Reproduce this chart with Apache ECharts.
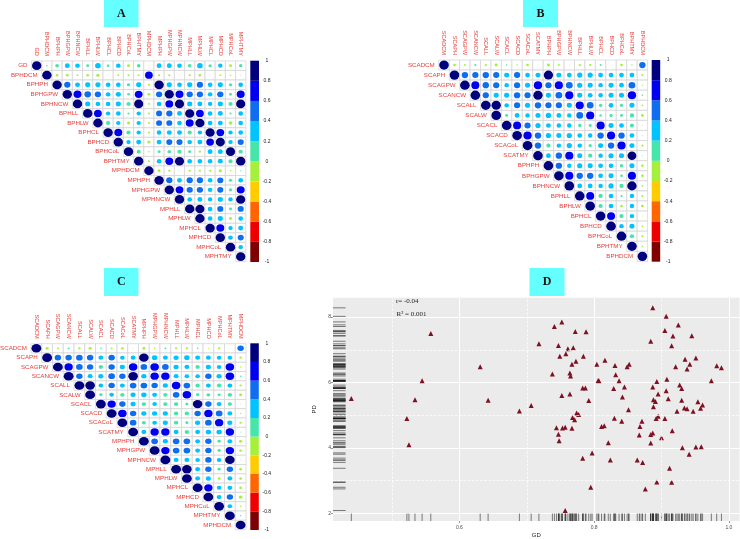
<!DOCTYPE html>
<html><head><meta charset="utf-8">
<style>html,body{margin:0;padding:0;background:#fff}#c{width:740px;height:539px}</style>
<script src="https://cdn.jsdelivr.net/npm/echarts@6/dist/echarts.min.js"></script>
</head><body><div id="c"></div>
<script>
const labelsA=['GD','BPHDCM','BPHPH','BPHGPW','BPHNCW','BPHLL','BPHLW','BPHCL','BPHCD','BPHCoL','BPHTMY','MPHDCM','MPHPH','MPHGPW','MPHNCW','MPHLL','MPHLW','MPHCL','MPHCD','MPHCoL','MPHTMY'];
const valuesA=[
[1,.03,.16,.28,.25,.1,.36,.08,.25,-.1,.15,-.01,.28,.28,.25,.15,.35,.12,.22,-.1,.13],
[1,-.08,-.09,-.04,-.08,-.12,-.01,-.04,-.05,-.04,.68,-.06,-.05,-.01,-.06,-.08,-.01,-.04,-.03,-.01],
[1,.45,.28,.3,.3,.25,.25,.13,.3,-.05,1,.3,.25,.3,.45,.25,.3,.12,.25],
[1,.72,.5,.45,.25,.3,.08,.7,-.1,.45,.95,.72,.45,.45,.25,.45,.1,.72],
[1,.3,.25,.25,.3,.2,.95,-.04,.25,.7,.95,.3,.28,.22,.3,.2,.95],
[1,.7,.22,.25,.05,.22,-.05,.42,.45,.28,.95,.7,.25,.28,.05,.25],
[1,.2,.22,-.1,.22,-.05,.42,.42,.25,.72,.95,.25,.28,-.15,.25],
[1,.72,.2,.22,-.05,.25,.28,.28,.2,.22,.95,.68,.22,.25],
[1,.22,.28,-.12,.28,.42,.42,.25,.28,.68,.95,.22,.42],
[1,.18,-.03,.1,.15,.2,.1,-.06,.28,.28,.95,.2],
[1,-.05,.25,.7,.95,.25,.25,.25,.28,.2,.98],
[1,-.1,-.06,-.01,-.06,-.06,-.06,-.12,-.03,.02],
[1,.45,.28,.45,.45,.25,.42,.12,.25],
[1,.7,.45,.45,.25,.42,.12,.72],
[1,.25,.28,.22,.3,.22,.95],
[1,.95,.25,.42,.1,.42],
[1,.25,.3,-.1,.25],
[1,.72,.22,.28],
[1,.25,.42],
[1,.22],
[1]];
const labelsB=['SCADCM','SCAPH','SCAGPW','SCANCW','SCALL','SCALW','SCACL','SCACD','SCACoL','SCATMY','BPHPH','BPHGPW','BPHNCW','BPHLL','BPHLW','BPHCL','BPHCD','BPHCoL','BPHTMY','BPHDCM'];
const valuesB=[
[1,-.08,-.04,.05,-.06,-.1,.03,-.03,-.08,-.01,-.1,-.04,-.01,-.06,-.06,.04,-.01,-.08,-.03,.45],
[1,.45,.42,.45,.42,.28,.42,.25,.28,.95,.28,.25,.3,.3,.25,.25,.25,.25,-.05],
[1,.7,.45,.42,.22,.42,.28,.75,.42,.72,.5,.3,.28,.22,.28,.25,.5,-.02],
[1,.42,.28,.28,.45,.42,.95,.28,.5,.72,.28,.25,.22,.28,.28,.75,.03],
[1,.95,.22,.42,.3,.45,.42,.42,.28,.72,.5,.12,.25,.12,.28,-.04],
[1,.1,.25,.22,.28,.32,.25,.22,.5,.72,.07,.12,.1,.2,-.08],
[1,.7,.42,.3,.25,.22,.22,.13,.1,.72,.28,.25,.18,-.01],
[1,.75,.45,.3,.28,.3,.25,.22,.45,.72,.45,.25,-.01],
[1,.45,.2,.22,.3,.22,.12,.28,.45,.75,.28,-.05],
[1,.25,.45,.72,.28,.2,.22,.3,.28,.85,.01],
[1,.45,.22,.3,.28,.25,.25,.13,.28,-.07],
[1,.72,.45,.45,.25,.28,.08,.72,-.08],
[1,.25,.25,.22,.3,.2,.95,-.03],
[1,.7,.2,.25,.05,.22,-.05],
[1,.2,.25,-.08,.22,-.08],
[1,.7,.2,.22,-.01],
[1,.22,.28,-.03],
[1,.2,-.05],
[1,-.03],
[1]];
const labelsC=['SCADCM','SCAPH','SCAGPW','SCANCW','SCALL','SCALW','SCACL','SCACD','SCACoL','SCATMY','MPHPH','MPHGPW','MPHNCW','MPHLL','MPHLW','MPHCL','MPHCD','MPHCoL','MPHTMY','MPHDCM'];
const valuesC=[
[1,-.1,-.04,.05,-.07,-.1,.03,-.04,-.08,-.01,-.09,-.03,.04,-.06,-.06,.03,-.02,-.06,-.01,.42],
[1,.42,.42,.45,.42,.25,.42,.22,.25,.95,.3,.25,.28,.3,.25,.25,.22,.22,-.07],
[1,.72,.45,.42,.2,.42,.28,.75,.45,.75,.45,.28,.25,.2,.28,.22,.75,-.02],
[1,.42,.25,.28,.45,.42,.95,.28,.72,.72,.25,.22,.22,.42,.28,.75,.03],
[1,.95,.22,.42,.25,.45,.45,.42,.28,.75,.45,.2,.25,.2,.25,-.06],
[1,.12,.22,.2,.28,.3,.25,.2,.45,.75,.12,.15,.1,.2,-.1],
[1,.72,.42,.28,.2,.22,.2,.2,.1,.95,.42,.25,.18,-.01],
[1,.75,.42,.28,.28,.28,.2,.2,.42,.72,.45,.25,-.02],
[1,.45,.18,.22,.28,.2,.1,.28,.45,.72,.28,-.06],
[1,.25,.72,.72,.25,.2,.25,.3,.3,.72,.01],
[1,.45,.28,.45,.45,.25,.42,.12,.25,-.1],
[1,.72,.45,.45,.25,.42,.12,.72,-.08],
[1,.25,.25,.22,.42,.22,.95,-.01],
[1,.95,.25,.42,.1,.42,-.08],
[1,.25,.28,-.08,.25,-.08],
[1,.72,.22,.25,-.08],
[1,.25,.42,-.15],
[1,.22,-.03],
[1,.02],
[1]];
const binBreaks=[-1,-.8,-.6,-.4,-.2,0,.2,.4,.6,.8,1];
const binColors=['#7F0000','#EE0000','#FF6600','#FFCC00','#A6F03C','#46E6AA','#00C3FF','#0F6EF0','#0000F0','#00007F'];
const gdValues=[.4395,.522,.525,.534,.5446,.5575,.6308,.6426,.689,.7065,
.887,.907,.925,.905,.917,.945,.884,.915,.752,.741,.772,.788,.718,.747,.761,.769,.758,.749,.784,.773,.767,.804,.816,.831,.852,.849,.935,.951,.942,.921,.938,.982,.989,.738,.764,.765,.832,.806,.807,.837,.908,.893,.974,.927,.930,.887,.845,.829,.783,.787,.907,.764,.752,.895,.842,.910,.888,.891,.792,.930,.954,.961,.958,.888,.851,.923,.934,.938,.947,.774,.777,.768,.771,.830,.841,.895,.892,.905,.871,.815,.811,.868,.744,.753,.757,.767,.747,.916,.887,.884,.867,.900,.748,.821,.884,.931,.951,.959,.797,.941,.783,.824,.864,.872,.912,.893,.915,.795,.876,.757];
const pdValues=[5.51,4.90,4.10,5.47,6.05,7.50,6.48,5.46,5.13,5.30,
8.28,8.02,7.76,7.59,7.42,7.43,7.26,7.12,7.85,7.71,7.56,7.55,7.18,7.13,7.03,7.06,6.88,6.80,6.80,6.65,6.56,6.56,6.68,6.52,6.56,6.48,6.71,6.75,6.56,6.48,6.41,6.51,6.45,6.26,6.29,6.20,6.24,6.06,6.05,6.05,6.10,6.03,6.05,5.92,5.82,5.86,5.86,5.82,5.83,5.83,5.75,5.65,5.60,5.65,5.56,5.50,5.47,5.42,5.45,5.46,5.41,5.31,5.21,5.26,5.17,5.12,5.22,5.20,5.12,5.07,5.02,4.93,4.86,4.91,4.82,4.97,4.90,4.90,4.82,4.68,4.66,4.66,4.62,4.61,4.63,4.60,4.42,4.53,4.46,4.41,4.40,4.31,4.22,4.16,4.15,4.01,4.03,4.04,3.85,3.81,3.69,3.63,3.63,3.56,3.38,2.96,2.95,2.80,2.75,2.09];
const xTicksD=[.6,.8,1.0], xMinorD=[.5,.7,.9], yTicksD=[2,4,6,8], yMinorD=[3,5,7];
const xRangeD=[.4123,1.0158], yRangeD=[1.77,8.59];

const RED='#E8403C', SANS='"Liberation Sans",Arial,sans-serif', SERIF='"Liberation Serif",serif';
const binColor=v=>{for(let i=0;i<10;i++) if(v<=binBreaks[i+1]) return binColors[i]; return binColors[9];};

const grid=[],xAxis=[],yAxis=[],series=[];
function corrPanel(labels,values,box,bar,topFont){
  const n=labels.length, gi=grid.length;
  grid.push({left:box.l,top:box.t,width:box.w,height:box.h});
  xAxis.push({gridIndex:gi,type:'category',data:labels,position:'top',axisLine:{show:false},axisTick:{show:false},splitLine:{show:false},
    axisLabel:{interval:0,rotate:90,fontSize:topFont,color:RED,fontFamily:SANS,margin:5}});
  yAxis.push({gridIndex:gi,type:'category',data:labels,inverse:true,axisLine:{show:false},axisTick:{show:false},axisLabel:{show:false},splitLine:{show:false}});
  const pts=[];
  values.forEach((row,r)=>row.forEach((v,k)=>pts.push([r+k,r,v])));
  series.push({type:'custom',xAxisIndex:gi,yAxisIndex:gi,silent:true,z:1,data:pts,encode:{x:0,y:1},
    renderItem:(p,api)=>{const c=api.coord([api.value(0),api.value(1)]),s=api.size([1,1]);
      return {type:'rect',shape:{x:c[0]-s[0]/2,y:c[1]-s[1]/2,width:s[0],height:s[1]},style:{fill:'#fff',stroke:'#d6d6d6',lineWidth:.8}};}});
  const cw=box.w/n, ch=box.h/n;
  series.push({type:'scatter',xAxisIndex:gi,yAxisIndex:gi,z:3,silent:true,
    data:pts.map(d=>({value:d,itemStyle:{color:binColor(d[2]),opacity:1},
      label:d[0]===d[1]?{show:true,position:'left',distance:4.5,formatter:labels[d[1]],color:RED,fontSize:6.2,fontFamily:SANS}:{show:false}})),
    symbol:'circle',symbolSize:d=>{const f=.92*Math.sqrt(Math.abs(d[2]));return [cw*f,ch*f];}});
  const bi=grid.length;
  grid.push({left:bar.l,top:bar.t,width:bar.w,height:bar.h});
  xAxis.push({gridIndex:bi,type:'value',min:0,max:1,show:false});
  yAxis.push({gridIndex:bi,type:'value',min:-1,max:1,interval:.2,position:'right',axisLine:{show:false},axisTick:{show:false},splitLine:{show:false},
    axisLabel:{fontSize:5,color:'#222',fontFamily:SANS,align:'center',margin:8}});
  series.push({type:'custom',xAxisIndex:bi,yAxisIndex:bi,silent:true,
    data:binColors.map((c,i)=>[binBreaks[i],binBreaks[i+1]]),encode:{y:[0,1]},
    renderItem:(p,api)=>{const a=api.coord([0,api.value(0)]),b=api.coord([1,api.value(1)]);
      return {type:'rect',shape:{x:a[0],y:b[1],width:b[0]-a[0],height:a[1]-b[1]},style:{fill:binColors[p.dataIndex]}};}});
}
corrPanel(labelsA,valuesA,{l:31.6,t:60.9,w:214.2,h:200.6},{l:250.3,t:60.7,w:8.7,h:201.3},5.6);
corrPanel(labelsB,valuesB,{l:438.8,t:60,w:208.8,h:201.4},{l:651.7,t:60,w:8.5,h:201.7},5.6);
corrPanel(labelsC,valuesC,{l:31,t:343.7,w:215,h:185.9},{l:250.3,t:343.3,w:8.5,h:186.7},5.6);

// Panel D
const di=grid.length;
grid.push({left:333,top:297.7,width:406.5,height:227.3,show:true,backgroundColor:'#EBEBEB',borderWidth:0});
const tickStyle={color:'#4d4d4d',fontSize:5,fontFamily:SANS};
xAxis.push({gridIndex:di,type:'value',min:xRangeD[0],max:xRangeD[1],name:'GD',nameLocation:'middle',nameGap:11,nameTextStyle:{fontSize:6,color:'#222',fontFamily:SANS},
  axisLine:{show:false},axisTick:{customValues:xTicksD,length:2,lineStyle:{color:'#555',width:.6}},
  axisLabel:Object.assign({customValues:xTicksD,margin:4,formatter:v=>v.toFixed(1)},tickStyle),
  splitLine:{show:true,lineStyle:{color:'#fff',width:1}}});
yAxis.push({gridIndex:di,type:'value',min:yRangeD[0],max:yRangeD[1],name:'PD',nameLocation:'middle',nameGap:8,nameTextStyle:{fontSize:6,color:'#222',fontFamily:SANS},
  axisLine:{show:false},axisTick:{customValues:yTicksD,length:2,lineStyle:{color:'#555',width:.6}},
  axisLabel:Object.assign({customValues:yTicksD,margin:2,formatter:v=>String(v)},tickStyle),
  splitLine:{show:true,lineStyle:{color:'#fff',width:1}}});
const ptsD=gdValues.map((x,i)=>[x,pdValues[i]]);
const minorLine={color:'#fff',width:.7};
series.push({type:'line',xAxisIndex:di,yAxisIndex:di,data:[],silent:true,z:1,
  markLine:{silent:true,symbol:'none',label:{show:false},lineStyle:minorLine,animation:false,
    data:xMinorD.map(v=>({xAxis:v})).concat(yMinorD.map(v=>({yAxis:v})))}});
const rugLine={stroke:'rgba(0,0,0,.55)',lineWidth:.9};
series.push({type:'custom',xAxisIndex:di,yAxisIndex:di,silent:true,z:2,data:ptsD,encode:{x:0,y:1},
  renderItem:(p,api)=>{const a=api.coord([api.value(0),yRangeD[0]]);
    return {type:'line',shape:{x1:a[0],y1:a[1],x2:a[0],y2:a[1]-7.5},style:rugLine};}});
series.push({type:'custom',xAxisIndex:di,yAxisIndex:di,silent:true,z:2,data:ptsD,encode:{x:0,y:1},
  renderItem:(p,api)=>{const a=api.coord([xRangeD[0],api.value(1)]);
    return {type:'line',shape:{x1:a[0],y1:a[1],x2:a[0]+12.6,y2:a[1]},style:rugLine};}});
series.push({type:'scatter',xAxisIndex:di,yAxisIndex:di,z:4,silent:true,data:ptsD,symbol:'triangle',symbolSize:5,itemStyle:{color:'#7E1022',opacity:1}});

const box=(x,y,w,h,t)=>[
  {type:'rect',shape:{x,y,width:w,height:h},style:{fill:'#66FFFF'},silent:true},
  {type:'text',x:x+w/2,y:y+h/2,style:{text:t,fill:'#111',font:'bold 12px '+SERIF,textAlign:'center',textVerticalAlign:'middle'},silent:true}];
const graphic=[].concat(box(104,0,34.5,27,'A'),box(523,0,35,27,'B'),box(104,268,34.5,28,'C'),box(529.5,268,35,28,'D'),[
  {type:'text',x:396,y:301,style:{text:'r= -0.04',fill:'#222',font:'7px '+SERIF,textVerticalAlign:'middle'},silent:true},
  {type:'text',x:396.5,y:314,style:{text:'R² = 0.001',fill:'#222',font:'7px '+SERIF,textVerticalAlign:'middle'},silent:true}]);

echarts.init(document.getElementById('c'),null,{renderer:'canvas'}).setOption({animation:false,backgroundColor:'#fff',grid,xAxis,yAxis,series,graphic});
</script></body></html>
